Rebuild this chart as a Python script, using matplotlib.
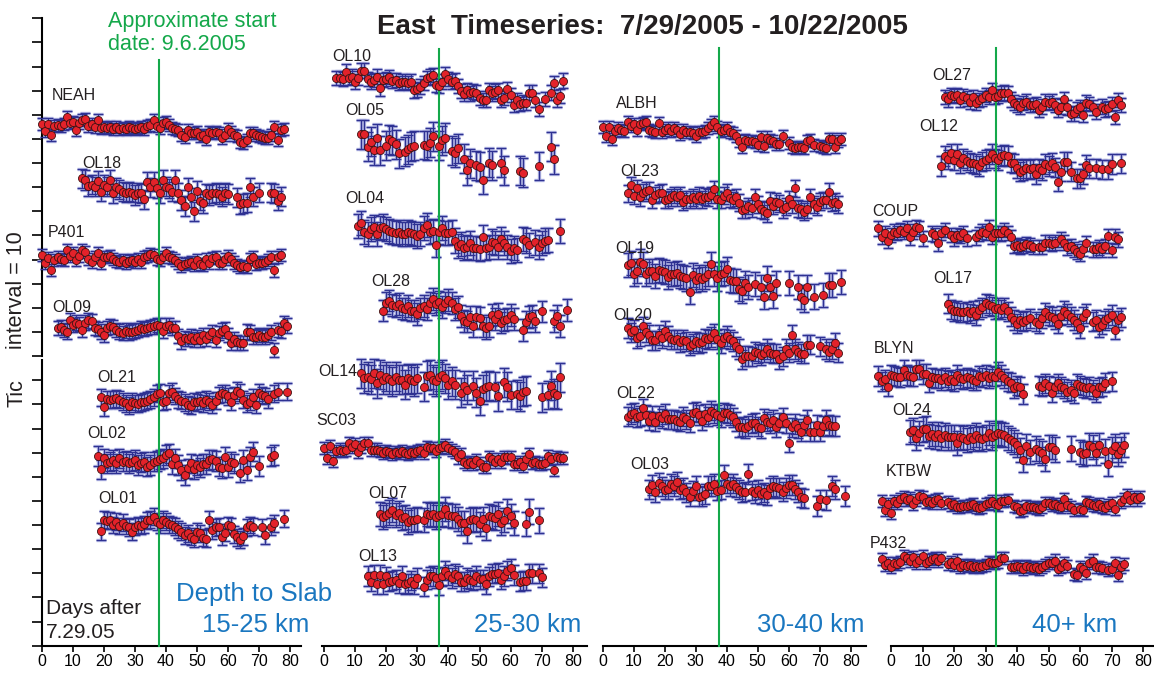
import matplotlib.pyplot as plt

plt.rcParams['font.family'] = ['Liberation Sans', 'DejaVu Sans']

# ---- station records: east offset (mm) per day, from start_day; None = no solution
NEAH = [0.4, -2.5, 0.4, -4.0, -0.4, 0.0, -0.4, 0.4, 3.2, 0.7, 1.4, -2.0, 1.0, 2.0, 2.3, -0.4, 0.4, -0.7, 2.0, -1.4,
        -0.7, -1.2, -1.0, -1.5, -0.8, -1.6, -1.2, -1.8, -1.0, -1.4, -1.6, -1.2, -0.8, -1.5, -0.4, -0.2, 2.0, -0.4, -1.1, 1.0,
        1.4, 0.0, -1.1, -1.8, -2.0, -4.0, -4.8, -2.0, -3.5, -3.2, -2.8, -4.5, -4.1, -6.0, -2.8, -3.5, -2.8, -3.5, -5.5, -4.1,
        -1.8, -2.8, -4.1, -4.4, -7.0, -7.3, -6.2, -3.2, -3.5, -4.1, -4.6, -5.1, -5.2, -5.5, -4.1, -1.0, -6.2, -2.0, -1.8]
OL18 = [0.7, 0.0, -2.5, -2.0, -2.8, -0.3, -4.8, -2.0, -2.8, 0.0, -5.5, -3.0, -3.9, -4.8, -5.2, -4.8, -5.2, -6.2, -5.2, -5.5,
        -8.0, -0.7, -3.0, -0.7, -3.5, -5.5, 0.0, -2.8, -3.5, -4.8, 0.0, -5.2, -8.3, -10.8, -3.0, -7.2, -13.0, -4.4, -8.6, -9.7,
        -5.5, -6.2, -5.5, -5.2, -5.8, -6.9, -5.2, -5.8, None, None, -7.2, -10.0, -9.7, -9.4, -3.0, -6.9, None, -5.2, None, None,
        None, -5.2, -5.5, -8.6, -6.9]
P401 = [1.2, -2.0, 0.0, -5.0, -0.8, 0.3, -0.5, -0.8, 3.3, 0.8, 1.9, -0.8, 0.8, 3.3, 2.6, -0.5, -1.5, 0.5, 2.2, -2.0,
        0.5, 0.3, 0.8, -0.5, -1.1, -1.5, -0.8, -2.0, -1.1, -0.8, -1.5, -0.5, -1.5, 0.3, 0.8, 1.7, 1.2, -0.5, -0.8, 0.5,
        1.9, 0.3, -0.1, -0.8, -2.2, -3.3, -2.5, -2.2, -1.5, -2.9, -0.8, -2.5, -2.9, -0.5, -2.2, -0.1, 0.3, -2.2, -2.2, -0.5,
        0.8, -0.5, -1.9, -2.9, -3.6, -3.3, -3.6, -0.5, 0.3, -2.5, -1.9, -2.2, -1.5, -0.8, 0.5, -5.2, 0.5, 1.2]
OL09 = [0.7, 1.0, 0.0, -0.7, 3.9, 2.1, 3.0, 2.5, 0.0, 3.0, 3.9, 3.5, 0.7, 0.3, -0.7, -2.1, 0.7, 1.4, 1.1, 0.0,
        -0.7, -1.4, -0.3, -1.1, -0.7, -0.3, 0.0, 0.7, 0.3, 0.7, 1.1, 1.4, 2.1, 1.7, -0.3, 1.7, 2.1, 0.7, 0.7, -2.5,
        -4.8, -3.5, -3.9, -2.8, -4.1, -3.0, -4.1, -2.1, -3.9, -2.1, -1.1, -4.1, -1.4, -0.3, 0.3, -2.1, -5.5, -3.9, -5.2, -5.5,
        -5.5, -0.7, -1.1, -3.0, -2.8, -2.1, -3.0, -2.8, -2.1, -1.1, -8.3, 0.0, -0.3, 2.8, 1.7]
OL21 = [0.3, -3.9, -0.6, -0.8, -0.6, -0.1, -0.8, -1.5, -2.2, -3.3, -1.5, -2.2, -2.5, -1.9, -1.5, -1.1, -0.6, 0.3, 1.7, 2.2,
        -1.5, -1.1, 1.9, 2.6, 0.8, -0.6, -1.1, -1.9, -2.9, -3.3, -1.5, -1.9, -1.1, -2.2, -0.8, -1.5, -2.9, -1.1, 1.2, 1.9,
        1.7, 0.6, -1.5, 1.2, 3.0, 2.2, -0.8, -2.5, -1.5, 0.3, -2.9, 2.2, 1.2, 0.8, -0.6, None, 1.7, 2.6, None, None, 2.6]
OL02 = [2.5, -3.0, 1.5, -0.5, 0.1, 0.8, -0.5, 1.5, 0.1, 0.5, -0.5, 0.1, 0.8, -1.2, -0.3, 0.1, -1.9, -1.2, 0.1, 0.5,
        1.1, 1.5, 2.9, 3.6, -0.8, 1.5, -1.2, -3.3, -5.4, -2.6, -0.5, -3.0, -1.2, -2.2, -0.8, -0.8, 0.8, 1.1, 0.5, -1.9,
        -2.6, 2.2, -2.2, 0.1, -0.5, None, -4.4, 0.8, -3.3, 2.2, 4.3, None, -1.6, None, None, None, 2.2, 2.9]
OL01 = [-3.3, 1.5, 1.0, 1.2, -0.8, 0.6, -1.2, 0.1, -1.2, -1.8, -3.6, -1.5, -0.8, -1.2, -0.5, 1.2, 1.5, 2.6, 0.6, -0.4,
        1.5, 0.6, -0.4, -0.8, -1.5, -2.6, -3.6, -5.0, -4.3, -5.7, -6.4, -3.6, -4.3, -6.1, -6.4, 1.5, -2.9, -1.8, -1.5, -5.7,
        -4.0, -0.8, -1.2, -4.6, -5.9, -6.8, -5.4, -1.8, -0.8, -1.5, None, None, -1.8, -5.0, None, -1.5, -0.1, None, None, 1.9]

OL10 = [0.0, 0.0, -0.5, 2.6, 0.0, 0.5, -1.5, 0.0, 3.0, 3.0, -0.5, -1.5, -0.8, 0.5, -4.3, -0.8, -0.5, 0.3, -1.1, -0.8,
        -2.2, -1.5, -1.5, -2.2, -1.5, -5.2, -4.7, -3.6, -2.2, 0.0, 0.5, 1.2, -2.9, -3.3, -1.5, 1.7, -0.5, -1.5, -1.1, -3.3,
        -5.4, -6.6, -5.2, -6.4, -5.7, -6.1, -8.4, -9.1, -9.1, -5.2, -6.4, -5.7, -5.2, -9.1, -8.4, -4.7, -7.0, -11.2, -9.1, -10.8,
        -10.2, -10.5, -6.1, -6.1, -9.1, -12.8, None, -8.8, None, -6.1, -2.2, -9.1, -7.5, -1.1]
OL05 = [3.7, 3.7, -1.5, 0.6, -2.9, 1.9, -2.9, None, -1.2, 1.5, 1.0, -0.4, -4.3, None, -3.6, -2.6, -1.5, -1.2, None, None,
        -0.8, -1.2, 0.1, 2.9, None, -1.2, 1.2, 2.3, None, -3.2, -4.0, -2.2, None, -6.4, -11.2, -8.4, None, -9.1, -9.8, -15.3,
        None, -8.1, -9.1, None, None, -8.1, -11.2, None, None, None, None, -11.5, -12.3, None, None, None, None, -9.5, None, None,
        None, -1.5, -6.8]
OL04 = [1.7, 2.8, -0.7, -1.7, 0.3, 1.1, -1.7, 0.7, 1.4, 0.3, -0.3, -0.7, -1.1, -0.7, -1.7, -1.7, -0.7, -1.4, -1.7, -2.5,
        -1.7, 0.7, 2.1, -0.7, -0.4, -6.2, -0.7, 0.7, -1.4, -1.4, -0.7, -4.4, -6.6, -5.8, -7.6, -6.9, -5.5, -7.6, -7.6, -8.0,
        -2.8, -7.6, -6.9, -4.8, -5.5, -6.9, -3.9, -5.5, -7.2, -8.6, -7.6, -8.3, None, -3.9, -4.4, -6.2, None, -5.2, -7.2, -5.5,
        -4.4, -4.1, None, None, None, -0.3]
OL28 = [-1.5, 1.5, 2.6, 0.8, 0.4, 1.2, -0.6, -1.0, 0.4, -1.5, -1.5, -2.9, -0.6, 0.4, -1.0, 1.8, 3.2, 1.2, 2.2, 0.1,
        1.8, 2.9, 1.5, -1.0, -0.1, -3.7, -5.7, -6.1, -4.3, -7.9, -4.3, -4.7, -7.9, -8.8, -7.9, -3.3, -5.1, -2.9, -6.5, -5.4,
        -5.1, -3.3, -5.1, None, None, -9.5, -6.1, -4.3, -3.7, -5.7, None, -1.9, None, None, None, -5.7, -3.7, -7.9, None, -1.2]
OL14 = [1.5, -0.6, 0.1, -1.0, 1.5, -2.6, 0.8, -1.2, 0.1, -1.0, -1.9, 0.1, -1.2, -1.2, -3.3, -0.6, -1.2, -1.9, -0.6, None,
        -4.0, 0.4, 0.8, -1.2, -1.9, 0.1, 0.8, -0.6, -3.3, -1.9, -3.3, None, -6.5, -3.7, -5.4, None, -3.7, -6.5, -10.0, -5.1,
        -4.0, -3.7, None, -4.0, -8.1, None, -2.3, -4.0, -7.5, None, -7.1, -8.1, -6.1, -5.7, None, None, None, None, -8.4, None,
        -7.5, -3.7, -6.8, -7.5, -0.1]
SC03 = [-0.1, -4.3, 0.8, -5.2, -1.1, -0.6, -1.1, -0.6, 1.9, 0.3, 1.7, -1.5, 0.3, 2.2, 2.2, -0.6, -0.6, -0.6, -1.1, -2.2,
        -1.1, -1.5, -2.5, -1.5, -1.9, -1.1, -2.2, -2.5, -1.5, -2.2, -1.1, -0.8, -2.2, 0.3, -0.1, -0.1, -1.1, -0.1, 0.6, 1.2,
        0.2, -0.8, -1.5, -3.9, -2.5, -5.7, -6.4, -5.7, -6.6, -5.0, -6.1, -7.7, -7.7, -3.9, -4.7, -5.7, -4.7, -5.7, -3.6, -3.9,
        -3.9, -6.6, -6.6, -5.7, -7.5, -4.7, -2.5, -6.1, -5.7, -6.4, -6.4, -6.1, -3.3, -4.5, -9.1, -3.9, -4.3, -4.0]
OL07 = [0.4, -0.7, 0.0, 1.0, 2.1, 0.0, 0.7, -1.4, -1.0, -2.8, -2.1, -2.1, -1.8, None, -2.1, 0.4, 0.0, 0.4, -1.0, 0.0,
        0.4, 2.3, 0.0, -0.4, -0.4, -1.8, -3.2, -3.2, -6.5, -2.1, -1.8, -2.1, -3.7, -1.8, -5.5, -0.4, -0.7, -1.4, 0.4, -3.2,
        -2.1, 1.8, -0.4, -3.2, None, None, None, -3.7, 1.4, None, None, -2.3]
OL13 = [0.8, -1.5, 1.2, -2.5, 1.2, -2.5, 0.6, -1.5, -1.1, -0.8, -2.2, 0.8, -2.5, -2.2, -1.1, -2.5, -0.1, None, -3.6, -0.8,
        0.6, 0.8, -0.1, -2.9, 0.6, 3.0, 1.2, -0.1, 1.7, 0.8, -1.5, -1.5, -0.1, -0.8, -1.1, 0.8, -0.6, -0.6, -2.5, 0.6,
        1.7, 1.7, 2.2, -0.8, 0.8, 3.0, 4.0, 1.2, None, -1.5, -1.1, -1.1, 1.9, 1.9, None, 1.9, 0.3]

ALBH = [0.3, -3.3, 0.3, -4.7, -1.1, -0.1, -0.8, -1.1, 2.6, 0.8, 1.7, -0.8, 1.7, 2.2, 2.6, -0.8, -1.1, -1.5, 2.2, -1.5,
        -0.6, -0.1, -1.1, -0.1, -0.6, -2.5, -0.8, -1.5, -1.5, -1.9, -3.3, -1.5, -1.5, -1.1, -0.1, 1.2, 2.6, 0.6, -1.1, -0.8,
        -0.1, -1.5, -1.9, -3.3, -5.2, -7.7, -5.0, -5.2, -5.2, -5.7, -7.0, -3.6, -7.5, -3.9, -5.0, -5.2, -6.4, -6.6, -3.3, None,
        -6.1, -8.0, -8.4, -8.0, -8.0, -8.4, -5.2, -5.0, -7.0, None, -7.5, -7.7, -8.4, -4.7, -4.7, -7.7, -5.2, -4.7]
OL23 = [-0.1, 3.3, -1.2, 1.9, -1.8, 0.1, 1.0, 1.2, -2.9, -0.8, -0.1, 0.1, -2.9, -2.6, -1.8, -0.8, -1.8, -0.8, -3.6, -2.6,
        -2.6, -1.8, -2.6, -1.2, -2.6, -1.5, -1.8, -0.8, 1.5, -2.6, -2.9, -1.2, 0.1, -2.2, -2.9, -1.8, -4.0, -7.0, -6.8, -5.4,
        -6.4, -1.8, -4.6, -6.8, -7.3, -8.4, -3.2, -5.4, -3.6, -4.3, -6.8, -5.7, -2.6, -4.6, 1.9, -6.4, -6.8, -7.7, -6.8, -1.8,
        -4.6, -5.7, -3.6, -2.9, -2.9, 0.6, -4.0, -3.6, -4.6]
OL19 = [2.1, 2.8, -1.7, -0.3, 3.5, 2.5, -1.7, -0.3, -0.3, -2.5, 0.0, -0.3, -0.7, -2.8, -1.7, -1.7, -1.4, -2.5, -2.8, -3.5,
        -9.0, -2.1, -4.1, -2.8, -3.9, -2.8, -1.7, 2.5, -1.7, -3.5, -1.7, -1.1, 0.3, -4.1, -4.4, -4.4, -8.0, -8.6, -5.5, -7.2,
        None, -5.8, None, -7.2, -11.3, -3.5, -7.2, -10.7, -5.5, None, None, None, -5.5, None, None, -7.2, -11.3, -12.4, -7.2, None,
        -11.0, None, None, -10.4, None, -6.2, -6.2, None, None, -4.8]
OL20 = [0.7, -1.1, 0.0, -3.5, -2.5, 1.4, -1.1, -2.1, -4.4, -4.4, -2.1, -3.5, -0.3, -2.5, -3.9, -4.1, -3.9, -5.2, -4.1, -4.8,
        -6.6, -5.8, -4.8, -5.5, -5.2, -3.5, -3.9, -3.0, -1.4, -3.9, -5.5, -3.5, -2.5, -3.9, -4.8, -6.9, -8.0, -12.2, -10.8, -10.8,
        -11.0, -9.0, -9.7, -10.4, -9.4, -8.0, -9.4, -9.9, -9.9, -12.2, -11.0, -8.0, -9.4, -2.1, -8.0, -9.0, -9.9, -9.9, -6.2, -6.2,
        None, None, -6.9, None, -8.0, -9.0, -8.0, -5.5, -9.4]
OL22 = [-0.7, 0.4, 1.0, -1.0, -0.4, 2.8, 0.0, -2.3, -0.4, -2.8, -0.4, -1.4, 0.4, -1.8, -1.8, -1.8, -2.3, -2.8, -0.7, -1.8,
        -3.2, 1.0, 1.4, 0.0, -2.3, 0.4, -0.7, 1.8, 0.7, 0.0, -1.0, 1.0, 0.7, 0.0, -1.0, -2.8, -5.1, -4.8, -5.5, -4.6,
        -3.5, -3.2, -4.8, -5.5, -1.4, -2.8, -3.5, -2.1, -5.1, -3.2, -1.0, -3.5, -11.5, -5.1, -3.7, -5.5, -6.9, -4.1, -2.1, -6.9,
        -6.9, -4.1, -6.9, -4.6, -2.1, -4.1, -4.6, -4.6]
OL03 = [-0.6, 1.2, -1.9, 2.2, 0.6, -0.8, -0.6, 1.7, 0.8, 2.6, -0.8, -0.1, -1.9, -3.6, -1.1, 0.8, -3.6, -3.3, -2.5, 0.8,
        0.8, 1.7, -1.1, -0.8, 5.4, 1.7, 0.6, 1.7, 0.3, -0.8, -1.9, -1.5, 5.8, -1.1, -2.2, -0.8, -2.5, -1.9, -2.9, -0.1,
        0.8, 0.3, -0.1, -1.5, -0.1, 1.2, 1.2, -0.6, -1.9, -3.9, -4.3, None, None, None, -7.5, -4.7, None, -5.0, None, 0.8,
        -0.6, None, None, -3.3]

OL27 = [0.1, -1.0, 0.8, 0.4, 0.8, -1.2, 0.4, -0.6, -1.9, -0.1, -2.3, -1.2, -0.6, 0.8, 0.1, 2.9, 0.1, 0.4, 1.5, 1.8,
        1.5, -1.0, -2.3, -3.3, -4.0, -2.6, -1.9, -3.3, -3.3, -2.9, -5.4, -4.0, -1.9, -2.6, -1.9, -3.3, -5.4, -4.0, -1.0, -4.3,
        -7.0, -6.8, -5.1, -4.3, -7.5, -2.3, -2.9, -4.3, -6.1, None, -4.0, -5.1, -4.7, -2.9, -8.4, -1.2, -3.3]
OL12 = [-2.5, 1.7, 0.3, 2.8, 0.0, 2.5, -1.4, 0.7, -0.3, -1.1, -1.4, -1.7, -2.5, -0.7, 0.0, 0.7, 2.5, 0.7, 0.0, 1.7,
        2.1, 1.7, -1.1, -1.4, -3.5, -4.8, -4.1, -3.5, -3.9, -3.5, -5.8, -3.5, -4.1, -1.7, -2.5, -1.1, -3.0, -9.0, -4.8, -0.7,
        -0.7, -4.8, None, -7.6, -7.6, -5.8, -2.1, -3.5, None, -3.5, None, -3.9, None, -3.9, -1.7, None, None, -1.4]
COUP = [1.9, -1.5, 0.1, -3.2, -0.8, 0.6, 0.1, 1.2, 0.6, 1.9, -1.8, 0.6, 2.6, 1.9, -2.2, None, None, -0.1, -0.8, -4.3,
        0.1, 1.2, None, -0.8, -2.2, -0.8, -1.2, -0.1, -2.2, None, None, -1.8, -0.4, 0.6, 0.1, 2.6, -1.5, -0.1, 0.1, -0.1,
        1.2, 0.1, -1.8, -5.4, -5.0, -5.7, -5.4, -4.6, -5.0, -5.7, None, -5.7, -5.7, -4.0, -4.0, -4.6, -4.0, None, -2.6, -4.0,
        -5.9, -5.4, -6.8, -7.7, -8.7, -6.4, -4.3, None, -6.8, -6.8, -5.9, -6.8, -5.4, -1.2, -7.0, -1.5, -2.6]
OL17 = [1.7, -0.6, -1.5, -1.1, -1.9, -1.9, -1.5, -2.2, -1.1, -2.9, -0.8, 0.3, 1.9, 1.2, 0.6, -0.6, -0.1, -0.8, 0.3, -1.5,
        -3.6, -5.0, -6.6, -5.2, -5.7, -5.2, -4.3, None, -5.7, -6.6, -4.3, -1.9, -3.3, -3.6, -4.7, -6.6, -3.3, -1.1, -2.5, -3.6,
        -5.0, -6.4, -8.4, -3.6, -2.2, None, -5.7, -5.0, -8.0, -7.0, -5.2, -4.3, -2.9, -9.1, -5.2, -3.9]
BLYN = [0.0, -2.3, -1.4, -4.4, 0.4, 0.0, -0.3, -0.6, 2.5, 0.4, 0.0, -0.3, 2.8, 2.8, 0.8, 0.8, -2.8, -0.6, -1.0, -1.0,
        -1.7, -0.6, -1.9, -1.4, -2.3, 0.4, -1.0, -1.4, -0.6, -1.0, -1.7, -1.9, 0.0, -0.6, 0.4, -1.0, 0.0, -0.3, 1.8, 0.4,
        -1.0, -2.3, -2.8, -5.1, -4.1, -4.4, -7.5, None, None, None, None, -4.1, -4.4, -3.0, -4.1, -6.9, -4.4, -3.0, -4.4, -5.1,
        -6.5, -5.8, -7.2, -3.3, -4.1, -4.7, -5.1, -4.4, -5.5, -6.9, -4.7, -4.4, -2.8, None, -2.3]
OL24 = [0.6, 1.2, -2.2, 0.1, 1.5, 1.9, -1.2, -0.4, -1.5, -0.4, -2.2, -0.8, -1.8, -1.8, -1.8, -4.0, -1.5, -2.2, -2.9, -1.5,
        -2.6, -0.8, -2.2, -2.6, -1.5, 0.1, -1.8, -0.8, -0.1, -0.4, -0.8, -2.2, -2.9, -3.6, -5.0, -7.0, -11.2, -5.4, -7.7, None,
        -6.4, -7.3, -8.1, -10.9, -5.9, -5.9, -6.8, None, None, None, None, -6.4, None, None, -7.7, -8.7, -8.1, -5.0, -5.7, -8.1,
        -5.0, None, -7.3, -12.6, -6.8, -5.4, -8.7, -6.8, -5.0]
KTBW = [1.0, -2.9, -0.4, -4.0, 1.0, -0.1, 1.5, 2.6, 1.2, 1.9, -0.4, 1.2, 2.9, 2.6, 0.6, 1.0, 0.1, 1.2, 1.5, 0.1,
        None, 0.6, -0.8, -0.4, -1.5, -1.8, -1.2, -1.2, -0.8, -0.4, -1.8, -2.2, -1.8, -0.4, 0.1, 1.0, -0.4, -0.8, 1.0, 1.0,
        1.2, None, -1.2, -1.8, -3.2, -2.9, -1.2, -1.8, -1.5, -2.2, -2.6, -1.8, -0.1, 0.1, -0.8, -0.4, -1.2, -1.5, 1.5, -0.8,
        -1.8, -2.9, None, -2.6, -2.9, 0.6, -0.1, -0.8, -1.2, -0.4, -1.8, -2.2, -0.8, 0.1, -2.6, None, 0.6, 1.5, 3.3, 1.2,
        2.6, 1.5, 2.6]
P432 = [1.1, -1.2, -0.6, -1.9, -0.3, -0.8, 0.1, 2.5, 1.5, 0.6, 1.9, -0.6, 0.8, 2.5, -0.3, 0.6, 1.1, 1.5, 0.6, 1.5,
        None, -0.8, 0.1, -1.2, 0.6, -1.9, -1.2, -1.7, -1.2, -1.9, -1.7, -2.2, -1.7, -1.2, 0.1, -0.3, -0.6, 0.1, 1.5, 1.5,
        None, -1.9, -1.9, -1.7, -2.2, -3.0, -1.7, -2.2, -2.6, -1.9, -3.0, -2.2, -1.2, -0.6, -0.3, 0.6, -3.0, -1.9, -0.6, -1.7,
        None, -5.0, -5.4, -1.9, -3.0, -4.7, -0.6, 0.6, -2.2, -1.9, -2.6, None, -3.3, -3.0, -0.6, -5.4, -1.9, -0.8]

values = {'NEAH': NEAH, 'OL18': OL18, 'P401': P401, 'OL09': OL09, 'OL21': OL21, 'OL02': OL02, 'OL01': OL01,
          'OL10': OL10, 'OL05': OL05, 'OL04': OL04, 'OL28': OL28, 'OL14': OL14, 'SC03': SC03, 'OL07': OL07, 'OL13': OL13,
          'ALBH': ALBH, 'OL23': OL23, 'OL19': OL19, 'OL20': OL20, 'OL22': OL22, 'OL03': OL03,
          'OL27': OL27, 'OL12': OL12, 'COUP': COUP, 'OL17': OL17, 'BLYN': BLYN, 'OL24': OL24, 'KTBW': KTBW, 'P432': P432}

# first day of each record (days after 7.29.05)
start_day = {'NEAH': 0, 'OL18': 13, 'P401': 0, 'OL09': 5, 'OL21': 19, 'OL02': 18, 'OL01': 19,
             'OL10': 4, 'OL05': 12, 'OL04': 11, 'OL28': 19, 'OL14': 12, 'SC03': 0, 'OL07': 18, 'OL13': 14,
             'ALBH': 0, 'OL23': 8, 'OL19': 8, 'OL20': 8, 'OL22': 8, 'OL03': 15,
             'OL27': 17, 'OL12': 16, 'COUP': -4, 'OL17': 18, 'BLYN': -4, 'OL24': 6, 'KTBW': -3, 'P432': -3}

# stacking offset of each record (tic units above the time axis)
level = {'NEAH': 215.8, 'OL18': 193.0, 'P401': 160.7, 'OL09': 130.9, 'OL21': 102.7, 'OL02': 76.1, 'OL01': 50.8,
         'OL10': 235.3, 'OL05': 208.3, 'OL04': 172.3, 'OL28': 140.4, 'OL14': 111.4, 'SC03': 81.9, 'OL07': 54.2,
         'OL13': 28.1,
         'ALBH': 214.5, 'OL23': 187.6, 'OL19': 155.7, 'OL20': 130.9, 'OL22': 95.6, 'OL03': 65.4,
         'OL27': 227.4, 'OL12': 201.3, 'COUP': 171.0, 'OL17': 140.0, 'BLYN': 111.8, 'OL24': 88.1, 'KTBW': 59.1,
         'P432': 34.7}

# typical 1-sigma error (mm)
sigma = {'NEAH': 2.5, 'OL18': 4, 'P401': 2.5, 'OL09': 3, 'OL21': 3.5, 'OL02': 4, 'OL01': 3.5,
         'OL10': 3, 'OL05': 6, 'OL04': 5, 'OL28': 4.5, 'OL14': 6, 'SC03': 2.5, 'OL07': 5, 'OL13': 4,
         'ALBH': 2.5, 'OL23': 3.5, 'OL19': 5, 'OL20': 4, 'OL22': 4, 'OL03': 4,
         'OL27': 3, 'OL12': 4, 'COUP': 3, 'OL17': 4, 'BLYN': 4, 'OL24': 5, 'KTBW': 2.5, 'P432': 2.5}

panels = [['NEAH', 'OL18', 'P401', 'OL09', 'OL21', 'OL02', 'OL01'],
          ['OL10', 'OL05', 'OL04', 'OL28', 'OL14', 'SC03', 'OL07', 'OL13'],
          ['ALBH', 'OL23', 'OL19', 'OL20', 'OL22', 'OL03'],
          ['OL27', 'OL12', 'COUP', 'OL17', 'BLYN', 'OL24', 'KTBW', 'P432']]
depth_labels = ['15-25 km', '25-30 km', '30-40 km', '40+ km']
start_line = [37.6, 36.9, 37.4, 33.4]   # approximate start of the slip event, per panel
days_ticks = list(range(0, 81, 10))

# ---- layout (pixels of the 1154 x 673 figure)
W, H = 1154, 673
y_axis_px = 645.7
px_per_unit = 2.413
panel_geom = [(42, 3.1, -4, 83.5), (324, 3.11, -4, 84.5), (602.7, 3.1, -4, 84.8), (891, 3.15, -6, 83.5)]
label_pos = {'NEAH': (3.2, 228.2), 'OL18': (12.9, 200.0), 'P401': (2.0, 171.4), 'OL09': (3.2, 140.3),
             'OL21': (17.7, 111.3), 'OL02': (14.5, 88.1), 'OL01': (18.1, 61.2),
             'OL10': (2.5, 244.3), 'OL05': (6.8, 222.0), 'OL04': (6.8, 185.5), 'OL28': (15.3, 150.9),
             'OL14': (-1.8, 113.6), 'SC03': (-2.4, 93.5), 'OL07': (14.3, 63.2), 'OL13': (11.0, 36.9),
             'ALBH': (4.2, 224.8), 'OL23': (5.7, 196.7), 'OL19': (4.2, 164.7), 'OL20': (3.5, 137.0),
             'OL22': (4.4, 104.6), 'OL03': (8.9, 74.9),
             'OL27': (13.2, 236.5), 'OL12': (9.0, 215.1), 'COUP': (-5.8, 179.9), 'OL17': (13.4, 152.3),
             'BLYN': (-5.6, 123.2), 'OL24': (0.5, 97.3), 'KTBW': (-1.6, 72.1), 'P432': (-6.7, 42.4)}
green_top = [242.7, 247.3, 247.7, 247.7]
depth_x = [256, 528, 811, 1075]

GREEN = '#14a84a'
BLUE_TXT = '#1a77c0'
NAVY = '#2e3192'
HALO = '#aeb2e2'

fig = plt.figure(figsize=(W / 100, H / 100), dpi=100)
ytop = 260

for p, (x0, s, xa, xb) in enumerate(panel_geom):
    left = (x0 + s * xa) / W
    ax = fig.add_axes([left, (H - y_axis_px) / H, s * (xb - xa) / W, ytop * px_per_unit / H])
    ax.set_xlim(xa, xb)
    ax.set_ylim(0, ytop)
    ax.patch.set_visible(False)
    for sp in ['top', 'right']:
        ax.spines[sp].set_visible(False)
    ax.spines['bottom'].set_bounds(0 if p != 1 else -0.5, xb)
    ax.spines['bottom'].set_linewidth(1.5)
    ax.set_xticks(days_ticks)
    ax.tick_params(axis='x', direction='out', length=4, width=1.2, labelsize=11.5, pad=2)
    if p == 0:
        ax.spines['left'].set_position(('data', 0))
        ax.spines['left'].set_bounds(120, ytop)
        ax.spines['left'].set_linewidth(1.5)
        ax.plot([0, 0], [0, 118.8], color='black', lw=1.5, clip_on=False, solid_capstyle='butt')
        ax.set_yticks(range(0, ytop + 1, 10))
        ax.tick_params(axis='y', direction='out', length=7, width=1.2, labelleft=False)
    else:
        ax.spines['left'].set_visible(False)
        ax.set_yticks([])

    ax.plot([start_line[p], start_line[p]], [0, green_top[p]], color=GREEN, lw=1.5, zorder=3.5, clip_on=False)

    for name in panels[p]:
        vals = values[name]
        d0 = start_day[name]
        days = [d0 + i for i, v in enumerate(vals) if v is not None]
        ys = [level[name] + v for v in vals if v is not None]
        for col, lw, cs in [(HALO, 2.4, 3.6), (NAVY, 0.9, 3.3)]:
            eb = ax.errorbar(days, ys, yerr=sigma[name], fmt='none', ecolor=col, elinewidth=lw,
                             capsize=cs, capthick=lw, zorder=2 if col == HALO else 3)
            for a in eb.get_children():
                a.set_clip_on(False)
        ax.plot(days, ys, 'o', ms=5.8, mfc='#e3222a', mec='#3d1112', mew=0.6, zorder=4, clip_on=False)
        lx, ly = label_pos[name]
        ax.text(lx, ly, name, ha='left', va='center', fontsize=11.5, color='#231f20')

    fig.text(depth_x[p] / W, 1 - 625 / H, depth_labels[p], ha='center', va='center', fontsize=18.5, color=BLUE_TXT)

fig.text(254 / W, 1 - 594 / H, 'Depth to Slab', ha='center', va='center', fontsize=18.5, color=BLUE_TXT)
fig.text(46 / W, 1 - 608 / H, 'Days after', ha='left', va='center', fontsize=15, color='#231f20')
fig.text(46 / W, 1 - 632 / H, '7.29.05', ha='left', va='center', fontsize=15, color='#231f20')
fig.text(17 / W, 1 - 393 / H, 'Tic', ha='center', va='center', fontsize=15.5, rotation=90, color='#231f20')
fig.text(17 / W, 1 - 290 / H, 'interval = 10', ha='center', va='center', fontsize=15.5, rotation=90, color='#231f20')
fig.text(108 / W, 1 - 21 / H, 'Approximate start', ha='left', va='center', fontsize=15.5, color=GREEN)
fig.text(108 / W, 1 - 44 / H, 'date: 9.6.2005', ha='left', va='center', fontsize=15.5, color=GREEN)
fig.text(642 / W, 1 - 27 / H, 'East  Timeseries:  7/29/2005 - 10/22/2005', ha='center', va='center',
         fontsize=20, fontweight='bold', color='#231f20')

fig.savefig('out.png', dpi=100)
